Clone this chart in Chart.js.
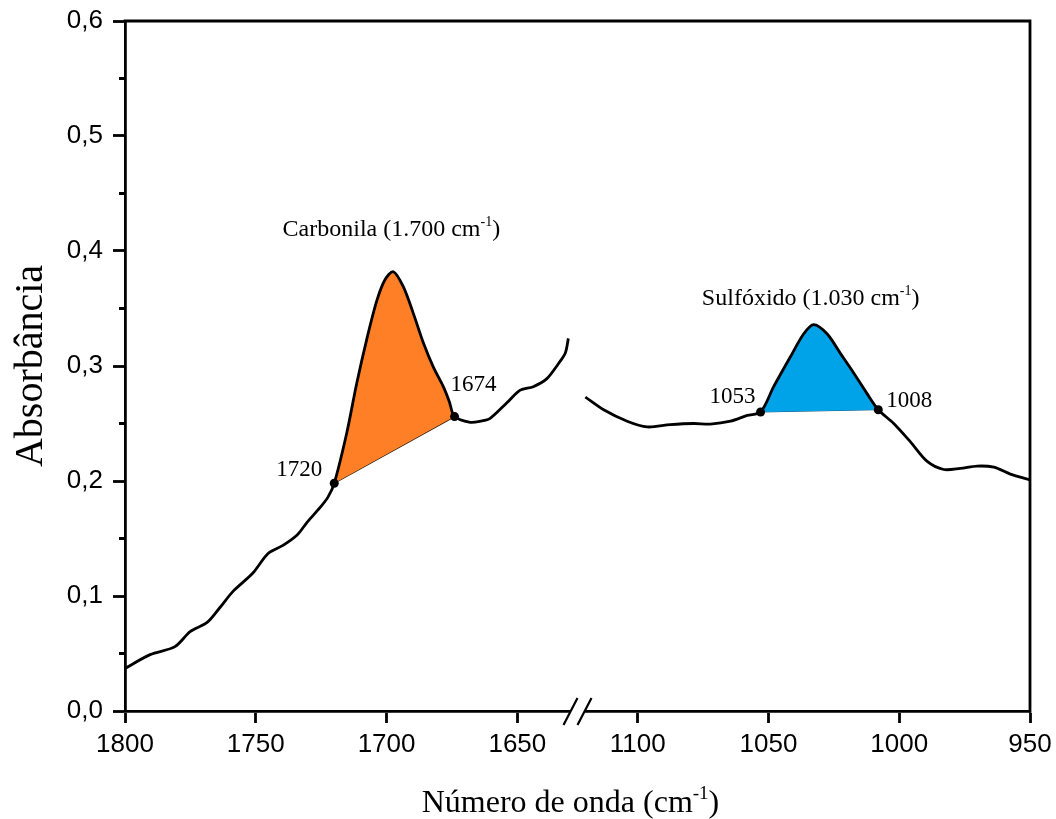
<!DOCTYPE html>
<html>
<head>
<meta charset="utf-8">
<script src="https://cdn.jsdelivr.net/npm/chart.js@4.4.1/dist/chart.umd.min.js"></script>
<style>
  html, body { margin: 0; padding: 0; background: #fff; }
  canvas { display: block; }
</style>
</head>
<body>
<canvas id="spectrum" width="1056" height="819"></canvas>
<script>
// FTIR spectrum, carbonyl window (1800-1627 cm-1) and sulfoxide window (1123-950 cm-1)
const leftWavenumber = [1800, 1790.4, 1780.9, 1775.1, 1768.6, 1763.7, 1758.7, 1751.1, 1745.3, 1739.6,
  1734.2, 1730.4, 1725.4, 1722.4, 1720, 1715.2, 1711.4, 1707.6, 1703.7, 1700.6, 1697.4, 1693.6,
  1689.8, 1685.9, 1682.1, 1678.3, 1676, 1674, 1668, 1664, 1660.4, 1654, 1648.9, 1643.9, 1638.7,
  1634.3, 1631.7, 1630.5];
const leftAbsorbance = [0.037, 0.049, 0.056, 0.069, 0.077, 0.090, 0.104, 0.120, 0.137, 0.144,
  0.153, 0.164, 0.177, 0.186, 0.198, 0.242, 0.285, 0.323, 0.357, 0.375, 0.382, 0.369,
  0.346, 0.320, 0.299, 0.282, 0.269, 0.256, 0.251, 0.252, 0.2545, 0.268, 0.279, 0.282, 0.289,
  0.302, 0.311, 0.324];

const rightWavenumber = [1120, 1113, 1104, 1096.4, 1087.5, 1078.6, 1072.2, 1064.5, 1058.1, 1053,
  1048, 1041.6, 1036.5, 1032.7, 1027.6, 1022.5, 1017.4, 1012.3, 1008, 1002.1, 995.7, 989.3,
  983, 976.6, 970.2, 963.8, 957.5, 950];
const rightAbsorbance = [0.273, 0.262, 0.252, 0.247, 0.249, 0.250, 0.2495, 0.252, 0.257, 0.260,
  0.282, 0.308, 0.328, 0.336, 0.328, 0.311, 0.294, 0.276, 0.262, 0.250, 0.234, 0.217,
  0.210, 0.211, 0.213, 0.212, 0.206, 0.201];

// integration limits of each band
const carbonylEdges = [1720, 1674];
const sulfoxideEdges = [1053, 1008];

const leftTicks = [1800, 1750, 1700, 1650];
const rightTicks = [1100, 1050, 1000, 950];
const yTicks = [0, 0.1, 0.2, 0.3, 0.4, 0.5, 0.6];
const yMinorTicks = [0.05, 0.15, 0.25, 0.35, 0.45, 0.55];

const leftRange = [1627, 1800];
const rightRange = [950, 1123];

const toPoints = (xs, ys) => xs.map((x, i) => ({x, y: ys[i]}));
const inside = (pts, edges) => pts.filter(p => p.x <= Math.max(...edges) && p.x >= Math.min(...edges));
const edgePoints = (xs, ys, edges) => edges.map(x => ({x, y: ys[xs.indexOf(x)]}));

const leftPoints = toPoints(leftWavenumber, leftAbsorbance);
const rightPoints = toPoints(rightWavenumber, rightAbsorbance);
const carbonylMarks = edgePoints(leftWavenumber, leftAbsorbance, carbonylEdges);
const sulfoxideMarks = edgePoints(rightWavenumber, rightAbsorbance, sulfoxideEdges);

const ORANGE = '#FF7F27';
const BLUE = '#00A2E8';
const SERIF = '"Liberation Serif", "Times New Roman", serif';
const SANS = '"Liberation Sans", Arial, sans-serif';
const AXIS_W = 2.8;

// labels hang over the plot edges; keep the plot box where the padding puts it
function noOverhang(s) {
  s.paddingTop = s.paddingBottom = s.paddingLeft = s.paddingRight = 0;
}

function xAxis(range, ticks) {
  return {
    type: 'linear',
    position: 'bottom',
    stack: 'wavenumber',
    stackWeight: range[1] - range[0],
    min: range[0],
    max: range[1],
    reverse: true,
    afterBuildTicks: s => { s.ticks = ticks.map(v => ({value: v})); },
    afterFit: s => { s.height = 108; noOverhang(s); },
    border: {display: true, color: '#000', width: AXIS_W},
    grid: {drawOnChartArea: false, drawTicks: true, tickLength: 12, tickColor: '#000', tickWidth: AXIS_W},
    ticks: {
      color: '#000', font: {family: SANS, size: 26}, padding: 6,
      maxRotation: 0, autoSkip: false, callback: v => String(v),
    },
  };
}

// rich text with a superscript part, used for the "cm-1" units
function richText(ctx, parts, x, y, size, align) {
  const main = `${size}px ${SERIF}`;
  const small = `${Math.round(size * 0.6)}px ${SERIF}`;
  const widths = parts.map(p => { ctx.font = p.sup ? small : main; return ctx.measureText(p.text).width; });
  const total = widths.reduce((s, w) => s + w, 0);
  let cx = align === 'center' ? x - total / 2 : align === 'right' ? x - total : x;
  ctx.textAlign = 'left';
  ctx.textBaseline = 'alphabetic';
  parts.forEach((p, i) => {
    ctx.font = p.sup ? small : main;
    ctx.fillText(p.text, cx, p.sup ? y - size * 0.4 : y);
    cx += widths[i];
  });
}

const decorations = {
  id: 'decorations',
  afterDatasetsDraw(chart) {
    const {ctx, chartArea: a, scales} = chart;
    const {x1, x2, y} = scales;
    ctx.save();
    ctx.strokeStyle = '#000';
    ctx.fillStyle = '#000';

    // top and right frame
    ctx.lineWidth = AXIS_W;
    ctx.lineCap = 'square';
    ctx.beginPath();
    ctx.moveTo(a.left, a.top);
    ctx.lineTo(a.right, a.top);
    ctx.lineTo(a.right, a.bottom);
    ctx.stroke();

    // minor ticks on absorbance axis
    ctx.lineCap = 'butt';
    ctx.beginPath();
    yMinorTicks.forEach(v => {
      const py = y.getPixelForValue(v);
      ctx.moveTo(a.left - 6, py);
      ctx.lineTo(a.left, py);
    });
    ctx.stroke();

    // axis break "//"
    const bx = x1.right, by = a.bottom;
    ctx.fillStyle = '#fff';
    ctx.fillRect(bx - 7, by - 3, 14, 6);
    ctx.fillStyle = '#000';
    ctx.lineWidth = 2.2;
    ctx.beginPath();
    [-7, 7].forEach(dx => {
      ctx.moveTo(bx + dx - 7, by + 14);
      ctx.lineTo(bx + dx + 7, by - 13);
    });
    ctx.stroke();

    // band names above each peak
    const top = pts => pts.reduce((m, p) => (p.y > m.y ? p : m));
    const cTop = top(inside(leftPoints, carbonylEdges));
    const sTop = top(inside(rightPoints, sulfoxideEdges));
    richText(ctx, [{text: 'Carbonila (1.700 cm'}, {text: '-1', sup: true}, {text: ')'}],
      x1.getPixelForValue(cTop.x) - 2, y.getPixelForValue(cTop.y) - 36, 24, 'center');
    richText(ctx, [{text: 'Sulfóxido (1.030 cm'}, {text: '-1', sup: true}, {text: ')'}],
      x2.getPixelForValue(sTop.x) - 3, y.getPixelForValue(sTop.y) - 20, 24, 'center');

    // integration limit labels
    const limitLabels = [
      {p: carbonylMarks[0], scale: x1, dx: -12, dy: -7, align: 'right'},
      {p: carbonylMarks[1], scale: x1, dx: -4, dy: -26, align: 'left'},
      {p: sulfoxideMarks[0], scale: x2, dx: -5, dy: -9, align: 'right'},
      {p: sulfoxideMarks[1], scale: x2, dx: 8, dy: -3, align: 'left'},
    ];
    limitLabels.forEach(l => {
      richText(ctx, [{text: String(l.p.x)}], l.scale.getPixelForValue(l.p.x) + l.dx,
        y.getPixelForValue(l.p.y) + l.dy, 23, l.align);
    });

    // wavenumber axis title, spanning both windows
    richText(ctx, [{text: 'Número de onda (cm'}, {text: '-1', sup: true}, {text: ')'}],
      (a.left + a.right) / 2 - 7, 812, 32, 'center');
    ctx.restore();
  },
};

const curve = {borderColor: '#000', borderWidth: 2.8, pointRadius: 0, tension: 0.3, fill: false};

new Chart(document.getElementById('spectrum'), {
  type: 'line',
  data: {
    datasets: [
      {...curve, data: leftPoints, xAxisID: 'x1'},
      {...curve, data: rightPoints, xAxisID: 'x2'},
      {data: inside(leftPoints, carbonylEdges), xAxisID: 'x1', borderWidth: 0, pointRadius: 0,
        tension: 0.3, fill: 3, backgroundColor: ORANGE},
      {data: carbonylMarks, xAxisID: 'x1', borderColor: '#2a1a0a', borderWidth: 1.3, pointRadius: 0,
        tension: 0, fill: false},
      {data: inside(rightPoints, sulfoxideEdges), xAxisID: 'x2', borderWidth: 0, pointRadius: 0,
        tension: 0.3, fill: 5, backgroundColor: BLUE},
      {data: sulfoxideMarks, xAxisID: 'x2', borderColor: '#1b5a80', borderWidth: 1, pointRadius: 0,
        tension: 0, fill: false},
      {data: carbonylMarks, xAxisID: 'x1', showLine: false, pointRadius: 4.5,
        pointBackgroundColor: '#000', pointBorderWidth: 0, order: -1},
      {data: sulfoxideMarks, xAxisID: 'x2', showLine: false, pointRadius: 4.5,
        pointBackgroundColor: '#000', pointBorderWidth: 0, order: -1},
    ],
  },
  options: {
    responsive: false,
    animation: false,
    parsing: false,
    layout: {padding: {left: 0, right: 26, top: 21, bottom: 0}},
    plugins: {legend: {display: false}, tooltip: {enabled: false}},
    scales: {
      x1: xAxis(leftRange, leftTicks),
      x2: xAxis(rightRange, rightTicks),
      y: {
        type: 'linear',
        position: 'left',
        min: 0,
        max: 0.6,
        afterBuildTicks: s => { s.ticks = yTicks.map(v => ({value: v})); },
        afterFit: s => { s.width = 125; noOverhang(s); },
        border: {display: true, color: '#000', width: AXIS_W},
        grid: {drawOnChartArea: false, drawTicks: true, tickLength: 12, tickColor: '#000', tickWidth: AXIS_W},
        ticks: {
          color: '#000', font: {family: SANS, size: 26}, padding: 10,
          callback: v => v.toFixed(1).replace('.', ','),
        },
        title: {
          display: true, text: 'Absorbância', color: '#000',
          font: {family: SERIF, size: 40}, padding: {top: 7, bottom: 0},
        },
      },
    },
  },
  plugins: [decorations],
});
</script>
</body>
</html>
